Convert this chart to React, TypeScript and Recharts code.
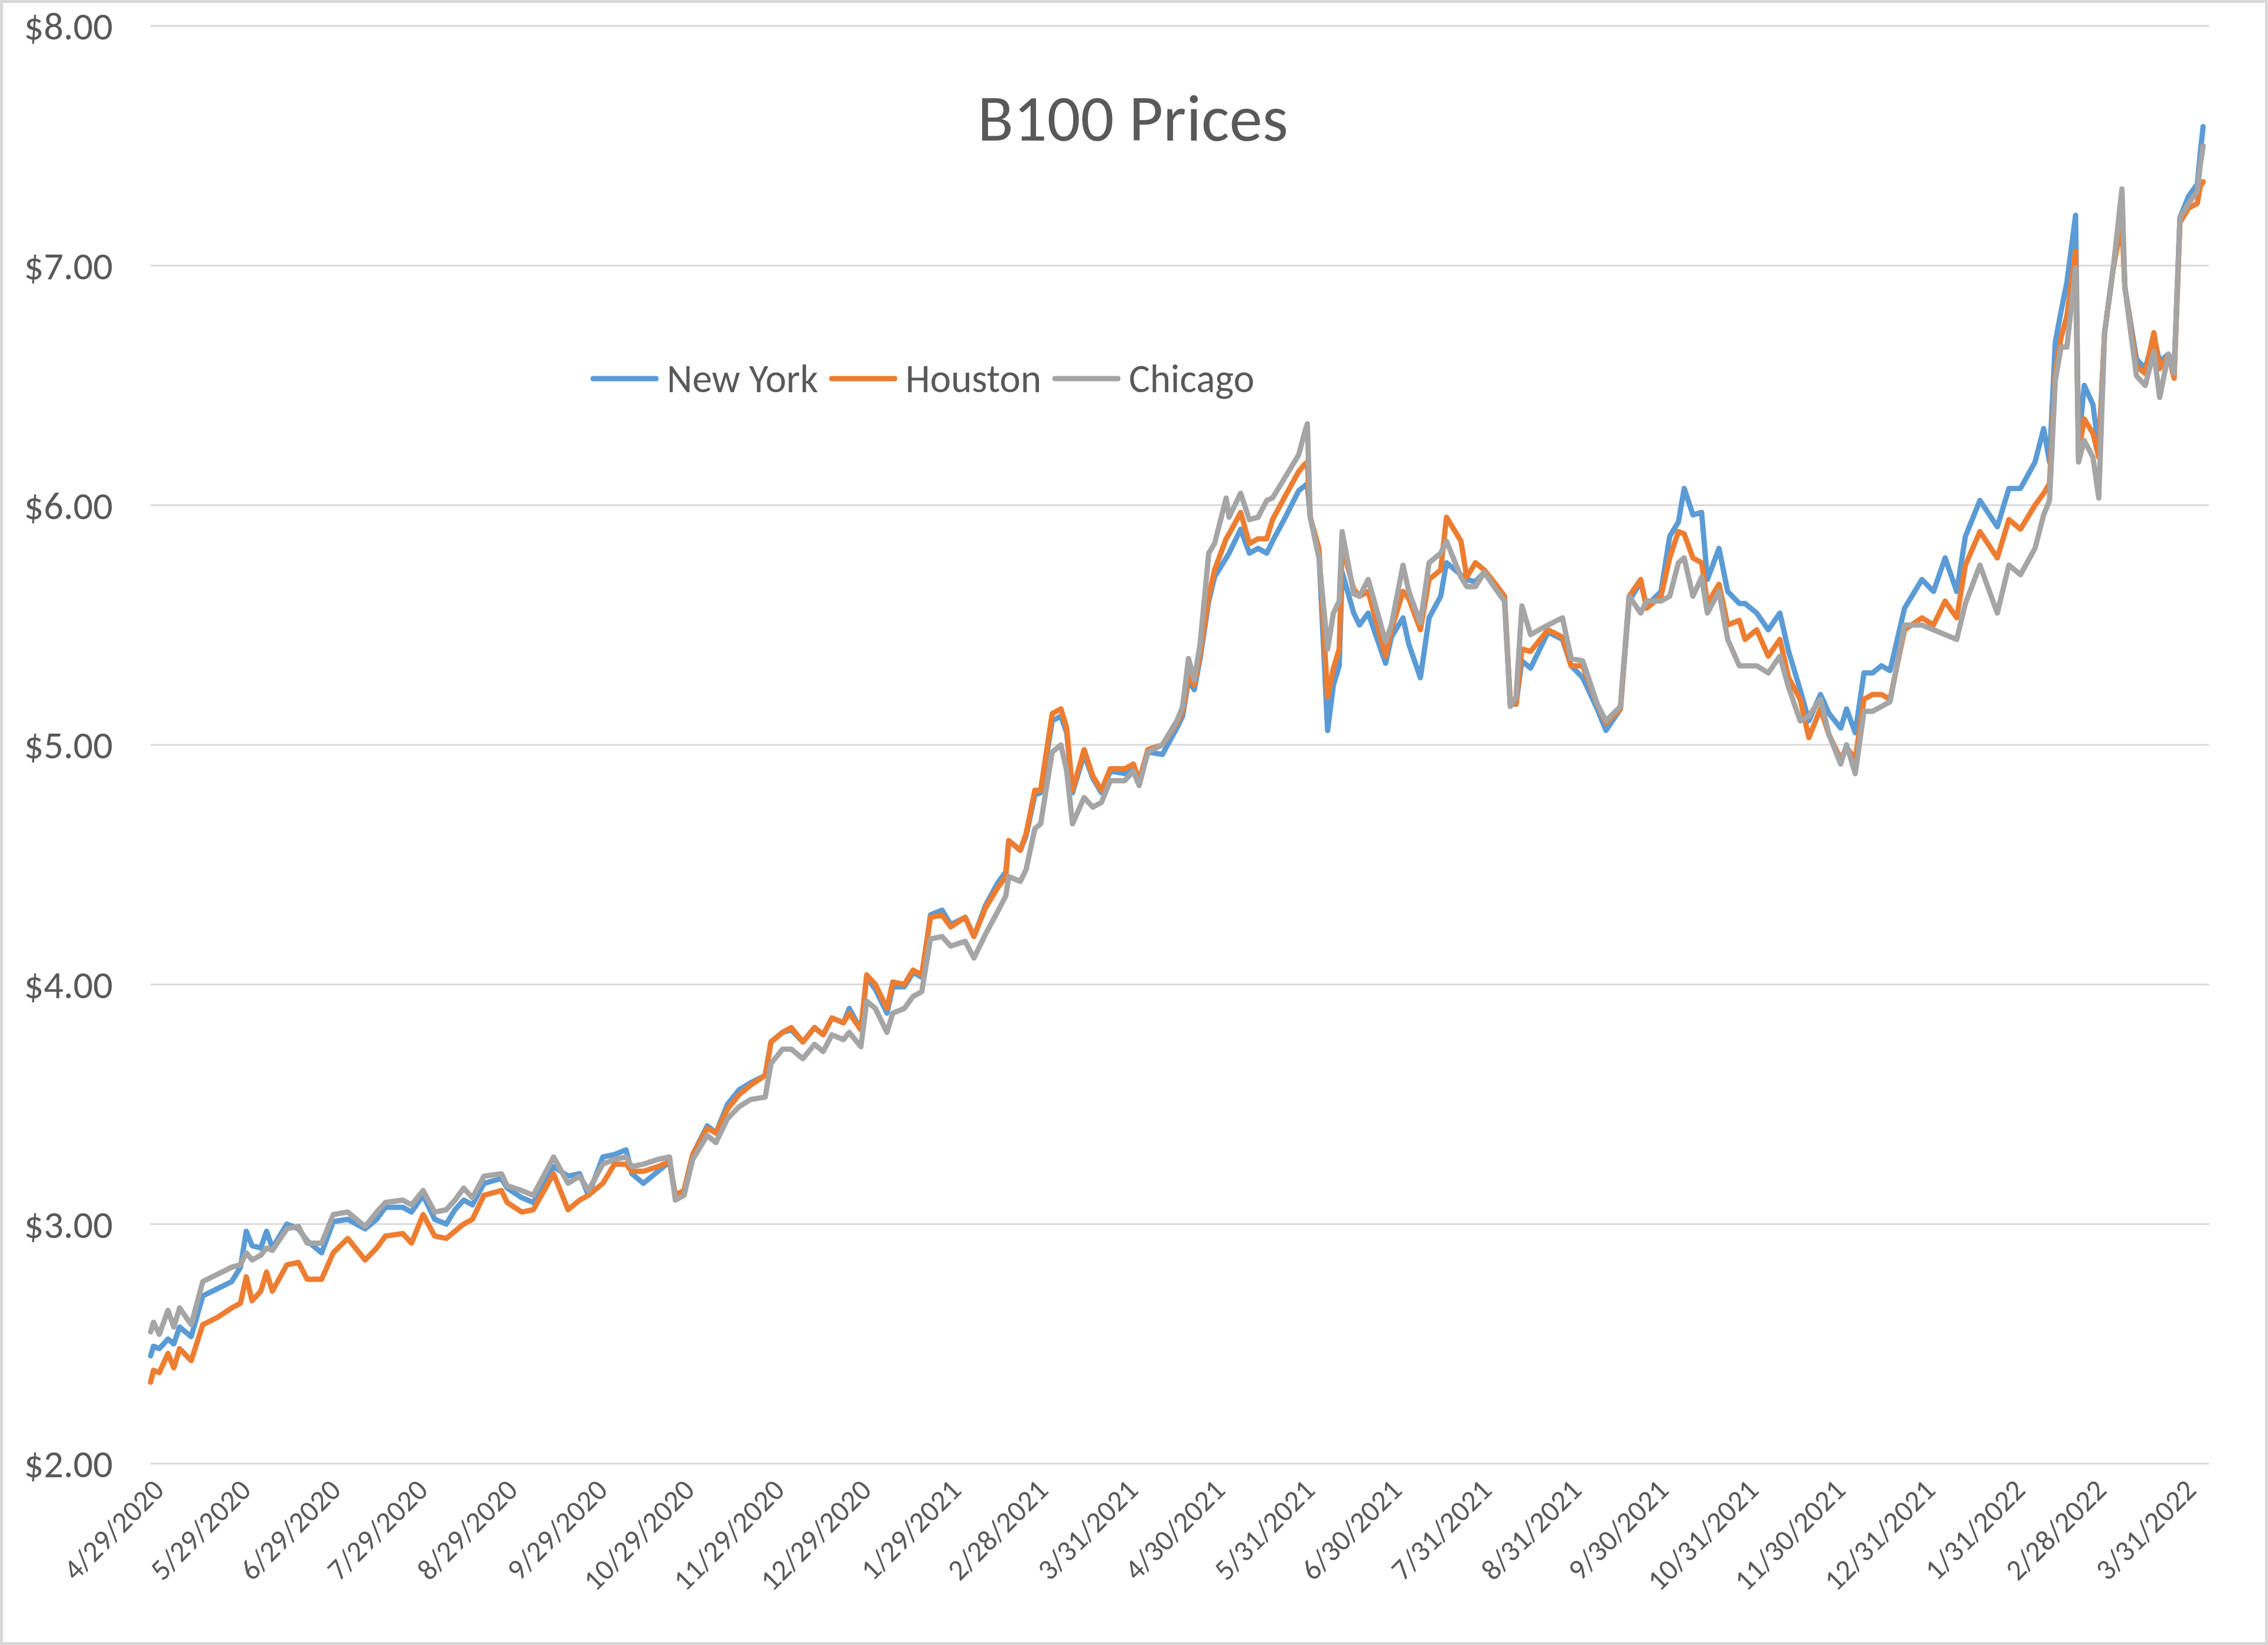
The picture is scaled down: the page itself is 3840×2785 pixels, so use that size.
import { LineChart, Line, XAxis, YAxis, CartesianGrid, Legend } from 'recharts';

const FONT = 'Calibri, Carlito, Lato, sans-serif';
const TEXT = '#595959';
const GRID = '#d9d9d9';

// days since 4/29/2020 (first data point)
const days = [
    0, 1, 3, 6, 8, 10, 14, 18, 23, 28,
    31, 33, 35, 38, 40, 42, 47, 51, 54, 59,
    63, 68, 74, 78, 81, 87, 90, 94, 98, 102,
    105, 108, 111, 115, 121, 123, 128, 132, 139, 144,
    148, 151, 156, 160, 164, 166, 170, 175, 179, 181,
    184, 187, 192, 195, 199, 203, 207, 212, 214, 218,
    221, 225, 229, 232, 235, 239, 241, 245, 247, 250,
    254, 256, 260, 263, 266, 269, 273, 276, 281, 284,
    288, 292, 295, 296, 300, 302, 305, 307, 311, 314,
    316, 318, 322, 325, 328, 331, 336, 339, 341, 344,
    349, 354, 356, 358, 360, 362, 365, 367, 371, 372,
    376, 379, 382, 385, 387, 391, 396, 398, 399, 400,
    403, 406, 408, 410, 411, 415, 417, 420, 426, 428,
    432, 434, 438, 441, 445, 447, 452, 454, 457, 460,
    464, 467, 469, 471, 473, 476, 482, 487, 490, 494,
    499, 502, 507, 510, 514, 516, 521, 524, 527, 529,
    532, 535, 537, 541, 544, 548, 550, 554, 558, 562,
    565, 569, 572, 576, 579, 583, 585, 588, 591, 594,
    597, 600, 605, 611, 615, 619, 623, 626, 631, 637,
    641, 645, 650, 653, 655, 657, 659, 661, 664, 665,
    667, 670, 672, 674, 677, 680, 681, 685, 688, 691,
    693, 696, 698, 700, 703, 706, 707, 708,
];

const newYork = [
    2.45, 2.49, 2.48, 2.52, 2.50, 2.57, 2.53, 2.70, 2.73, 2.76,
    2.82, 2.97, 2.91, 2.90, 2.97, 2.90, 3.00, 2.98, 2.93, 2.88,
    3.01, 3.02, 2.98, 3.02, 3.07, 3.07, 3.05, 3.12, 3.02, 3.00,
    3.06, 3.10, 3.08, 3.17, 3.19, 3.15, 3.11, 3.09, 3.24, 3.20,
    3.21, 3.12, 3.28, 3.29, 3.31, 3.21, 3.17, 3.22, 3.26, 3.12,
    3.14, 3.29, 3.41, 3.38, 3.50, 3.56, 3.59, 3.62, 3.76, 3.80,
    3.81, 3.76, 3.82, 3.79, 3.86, 3.84, 3.90, 3.81, 4.03, 3.98,
    3.88, 3.99, 3.99, 4.05, 4.03, 4.29, 4.31, 4.25, 4.28, 4.20,
    4.33, 4.42, 4.47, 4.60, 4.56, 4.62, 4.79, 4.80, 5.10, 5.12,
    5.05, 4.80, 4.96, 4.86, 4.80, 4.89, 4.88, 4.91, 4.85, 4.97,
    4.96, 5.07, 5.12, 5.27, 5.23, 5.36, 5.60, 5.70, 5.78, 5.80,
    5.90, 5.80, 5.82, 5.80, 5.85, 5.94, 6.06, 6.08, 6.09, 5.95,
    5.80, 5.06, 5.25, 5.33, 5.72, 5.55, 5.50, 5.55, 5.34, 5.45,
    5.53, 5.42, 5.28, 5.53, 5.62, 5.76, 5.71, 5.69, 5.68, 5.72,
    5.66, 5.62, 5.17, 5.17, 5.35, 5.32, 5.47, 5.44, 5.33, 5.28,
    5.15, 5.06, 5.15, 5.60, 5.68, 5.58, 5.64, 5.87, 5.93, 6.07,
    5.96, 5.97, 5.69, 5.82, 5.64, 5.59, 5.59, 5.55, 5.48, 5.55,
    5.39, 5.23, 5.10, 5.21, 5.13, 5.07, 5.15, 5.05, 5.30, 5.30,
    5.33, 5.31, 5.57, 5.69, 5.64, 5.78, 5.64, 5.87, 6.02, 5.91,
    6.07, 6.07, 6.18, 6.32, 6.18, 6.68, 6.81, 6.93, 7.21, 6.25,
    6.50, 6.42, 6.23, 6.72, 6.99, 7.22, 6.91, 6.61, 6.57, 6.70,
    6.60, 6.63, 6.57, 7.20, 7.29, 7.34, 7.47, 7.58,
];

const houston = [
    2.34, 2.39, 2.38, 2.46, 2.40, 2.48, 2.43, 2.58, 2.61, 2.65,
    2.67, 2.78, 2.68, 2.72, 2.80, 2.72, 2.83, 2.84, 2.77, 2.77,
    2.88, 2.94, 2.85, 2.90, 2.95, 2.96, 2.92, 3.04, 2.95, 2.94,
    2.97, 3.00, 3.02, 3.12, 3.14, 3.09, 3.05, 3.06, 3.21, 3.06,
    3.10, 3.12, 3.17, 3.25, 3.25, 3.22, 3.22, 3.24, 3.26, 3.12,
    3.14, 3.29, 3.40, 3.38, 3.48, 3.54, 3.58, 3.62, 3.76, 3.80,
    3.82, 3.76, 3.82, 3.79, 3.86, 3.84, 3.88, 3.81, 4.04, 4.00,
    3.90, 4.01, 4.00, 4.06, 4.04, 4.28, 4.29, 4.24, 4.28, 4.20,
    4.32, 4.40, 4.45, 4.60, 4.56, 4.63, 4.81, 4.81, 5.13, 5.15,
    5.07, 4.81, 4.98, 4.87, 4.81, 4.90, 4.90, 4.92, 4.85, 4.98,
    5.00, 5.09, 5.14, 5.29, 5.25, 5.38, 5.62, 5.73, 5.86, 5.88,
    5.97, 5.84, 5.86, 5.86, 5.94, 6.03, 6.14, 6.17, 6.18, 5.95,
    5.82, 5.20, 5.32, 5.40, 5.83, 5.65, 5.62, 5.64, 5.37, 5.48,
    5.64, 5.61, 5.48, 5.69, 5.73, 5.95, 5.85, 5.70, 5.76, 5.73,
    5.67, 5.62, 5.18, 5.17, 5.40, 5.39, 5.48, 5.45, 5.33, 5.33,
    5.17, 5.09, 5.15, 5.62, 5.69, 5.57, 5.62, 5.78, 5.89, 5.88,
    5.78, 5.76, 5.59, 5.67, 5.50, 5.52, 5.44, 5.48, 5.37, 5.44,
    5.28, 5.19, 5.03, 5.15, 5.04, 4.94, 4.99, 4.94, 5.19, 5.21,
    5.21, 5.19, 5.48, 5.53, 5.50, 5.60, 5.53, 5.75, 5.89, 5.78,
    5.94, 5.90, 6.00, 6.05, 6.09, 6.55, 6.70, 6.79, 7.06, 6.22,
    6.36, 6.30, 6.20, 6.72, 6.99, 7.18, 6.91, 6.58, 6.55, 6.72,
    6.57, 6.63, 6.53, 7.18, 7.24, 7.26, 7.33, 7.35,
];

const chicago = [
    2.55, 2.59, 2.54, 2.64, 2.57, 2.65, 2.58, 2.76, 2.79, 2.82,
    2.83, 2.88, 2.85, 2.87, 2.90, 2.89, 2.98, 2.99, 2.92, 2.92,
    3.04, 3.05, 2.99, 3.05, 3.09, 3.10, 3.08, 3.14, 3.05, 3.06,
    3.10, 3.15, 3.11, 3.20, 3.21, 3.16, 3.14, 3.12, 3.28, 3.17,
    3.20, 3.14, 3.25, 3.27, 3.28, 3.24, 3.25, 3.27, 3.28, 3.10,
    3.12, 3.27, 3.37, 3.34, 3.44, 3.49, 3.52, 3.53, 3.67, 3.73,
    3.73, 3.69, 3.75, 3.72, 3.79, 3.77, 3.80, 3.74, 3.93, 3.90,
    3.80, 3.88, 3.90, 3.95, 3.97, 4.19, 4.20, 4.16, 4.18, 4.11,
    4.21, 4.30, 4.37, 4.45, 4.43, 4.48, 4.65, 4.67, 4.97, 5.00,
    4.89, 4.67, 4.78, 4.74, 4.76, 4.85, 4.85, 4.89, 4.83, 4.97,
    5.00, 5.10, 5.16, 5.36, 5.27, 5.42, 5.80, 5.84, 6.03, 5.95,
    6.05, 5.94, 5.95, 6.02, 6.03, 6.11, 6.21, 6.30, 6.34, 5.95,
    5.78, 5.40, 5.55, 5.60, 5.89, 5.63, 5.62, 5.69, 5.43, 5.50,
    5.75, 5.64, 5.51, 5.76, 5.80, 5.85, 5.70, 5.66, 5.66, 5.72,
    5.65, 5.60, 5.16, 5.20, 5.58, 5.46, 5.50, 5.53, 5.36, 5.35,
    5.17, 5.10, 5.16, 5.62, 5.55, 5.60, 5.60, 5.62, 5.76, 5.78,
    5.62, 5.70, 5.55, 5.64, 5.44, 5.33, 5.33, 5.33, 5.30, 5.37,
    5.24, 5.10, 5.12, 5.19, 5.04, 4.92, 5.00, 4.88, 5.14, 5.14,
    5.16, 5.18, 5.50, 5.50, 5.48, 5.46, 5.44, 5.59, 5.75, 5.55,
    5.75, 5.71, 5.82, 5.96, 6.02, 6.52, 6.66, 6.66, 6.99, 6.18,
    6.27, 6.20, 6.03, 6.72, 6.99, 7.32, 6.91, 6.54, 6.50, 6.64,
    6.45, 6.63, 6.55, 7.20, 7.26, 7.31, 7.42, 7.50,
];

const tickLabels = [
    '4/29/2020', '5/29/2020', '6/29/2020', '7/29/2020', '8/29/2020', '9/29/2020',
    '10/29/2020', '11/29/2020', '12/29/2020', '1/29/2021', '2/28/2021', '3/31/2021',
    '4/30/2021', '5/31/2021', '6/30/2021', '7/31/2021', '8/31/2021', '9/30/2021',
    '10/31/2021', '11/30/2021', '12/31/2021', '1/31/2022', '2/28/2022', '3/31/2022',
];

const yTicks = [2, 3, 4, 5, 6, 7, 8];

const START = Date.UTC(2020, 3, 29);
const toDay = (s: string) => {
    const [m, d, y] = s.split('/').map(Number);
    return Math.round((Date.UTC(y, m - 1, d) - START) / 86400000);
};
const tickDays = tickLabels.map(toDay);

const data = days.map((d, i) => ({
    day: d,
    'New York': newYork[i],
    Houston: houston[i],
    Chicago: chicago[i],
}));

const SERIES = [
    { key: 'New York', color: '#5B9BD5' },
    { key: 'Houston', color: '#ED7D31' },
    { key: 'Chicago', color: '#A5A5A5' },
];
const seriesOrder = SERIES.map((s) => s.key);

function DateTick({ x, y, payload }: any) {
    const idx = tickDays.indexOf(payload.value);
    return (
        <text
            x={x}
            y={y}
            transform={`rotate(-45 ${x} ${y})`}
            textAnchor="end"
            dy="0.72em"
            fill={TEXT}
            fontSize={50}
            fontFamily={FONT}
        >
            {idx >= 0 ? tickLabels[idx] : ''}
        </text>
    );
}

function LegendRow({ payload }: any) {
    const items = [...(payload || [])].sort(
        (a: any, b: any) => seriesOrder.indexOf(a.value) - seriesOrder.indexOf(b.value),
    );
    return (
        <div style={{ display: 'flex', alignItems: 'center', fontFamily: FONT, fontSize: 67, color: TEXT, whiteSpace: 'nowrap', lineHeight: '80px' }}>
            {items.map((p: any) => (
                <span key={p.value} style={{ display: 'flex', alignItems: 'center', marginRight: 19 }}>
                    <svg width={115} height={14}>
                        <line x1={4} y1={7} x2={111} y2={7} stroke={p.color} strokeWidth={9} strokeLinecap="round" />
                    </svg>
                    <span style={{ marginLeft: 14 }}>{p.value}</span>
                </span>
            ))}
        </div>
    );
}

export default function App() {
    return (
        <div style={{ position: 'absolute', left: 0, top: 0, width: 3840, height: 2785, background: '#fff' }}>
            <LineChart width={3840} height={2785} data={data} margin={{ top: 44, right: 100, bottom: 0, left: 0 }}>
                <CartesianGrid horizontal vertical={false} stroke={GRID} strokeWidth={3} />
                <XAxis
                    dataKey="day"
                    type="number"
                    domain={[0, 710]}
                    ticks={tickDays}
                    interval={0}
                    tick={<DateTick />}
                    tickLine={false}
                    axisLine={false}
                    tickSize={0}
                    tickMargin={22}
                    height={307}
                />
                <YAxis
                    domain={[2, 8]}
                    ticks={yTicks}
                    interval={0}
                    width={255}
                    tickSize={0}
                    tickMargin={64}
                    tickLine={false}
                    axisLine={false}
                    tick={{ fill: TEXT, fontSize: 66, fontFamily: FONT }}
                    tickFormatter={(v: number) => `$${v.toFixed(2)}`}
                />
                <Legend
                    layout="horizontal"
                    verticalAlign="middle"
                    align="center"
                    content={<LegendRow />}
                    wrapperStyle={{ left: 1000, top: 601, width: 'auto' }}
                />
                {SERIES.map((s) => (
                    <Line
                        key={s.key}
                        type="linear"
                        dataKey={s.key}
                        stroke={s.color}
                        strokeWidth={9}
                        strokeLinejoin="round"
                        strokeLinecap="round"
                        dot={false}
                        activeDot={false}
                        isAnimationActive={false}
                    />
                ))}
                <text x={1918} y={238} textAnchor="middle" fill={TEXT} fontSize={112} fontFamily={FONT}>
                    B100 Prices
                </text>
            </LineChart>
            <div style={{ position: 'absolute', inset: 0, border: `5px solid ${GRID}`, pointerEvents: 'none' }} />
        </div>
    );
}
